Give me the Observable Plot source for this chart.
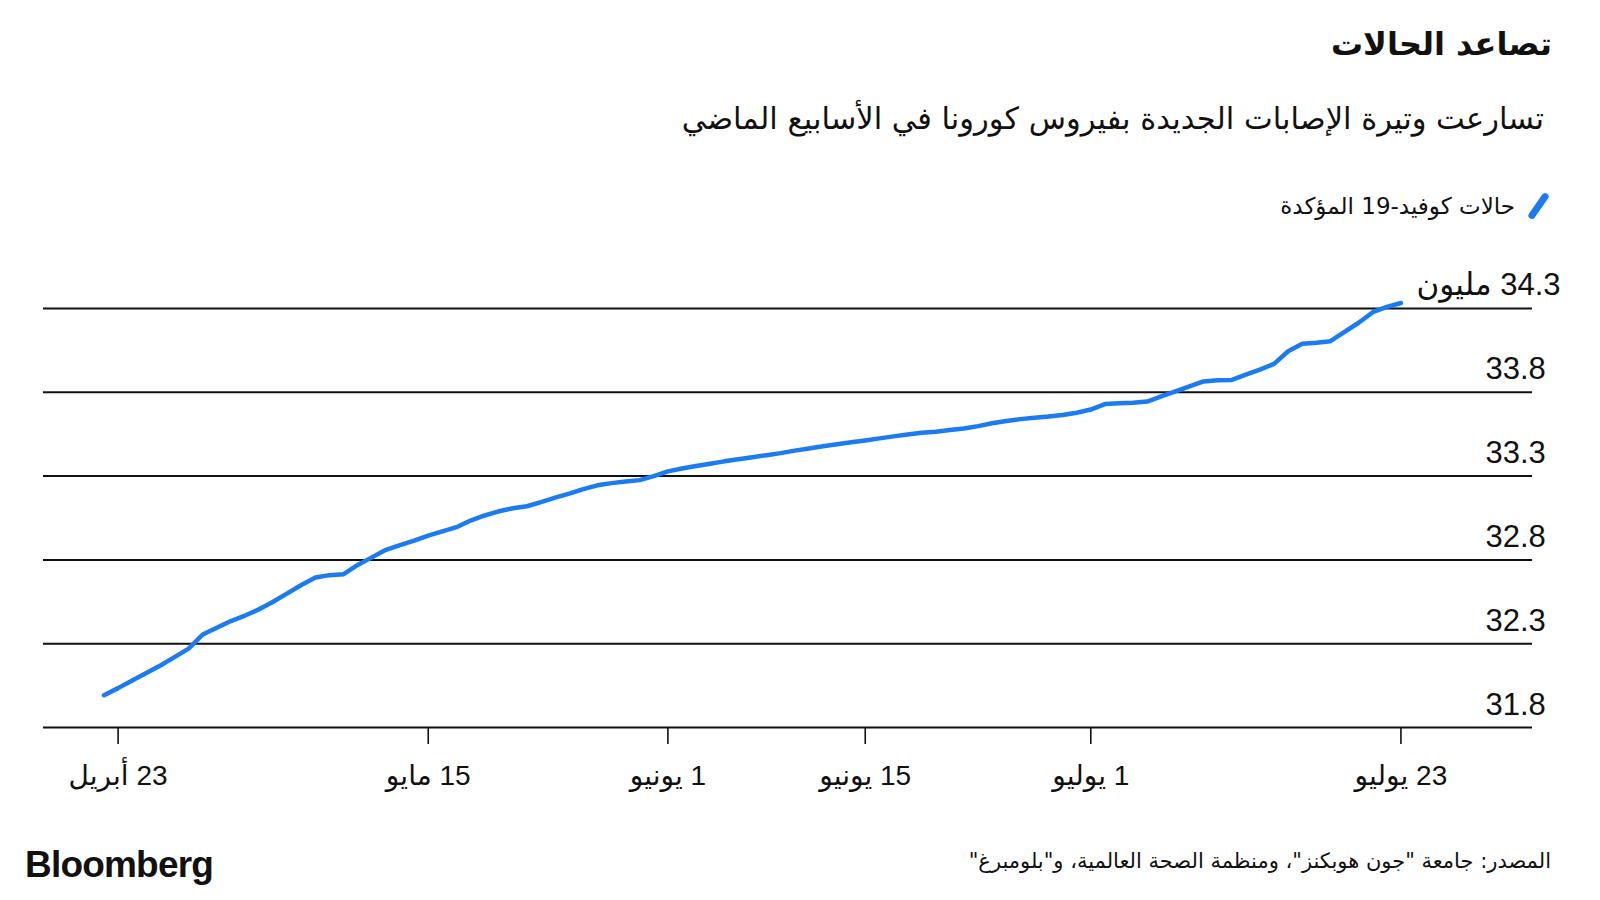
<!DOCTYPE html>
<html lang="ar">
<head>
<meta charset="utf-8">
<script src="https://cdn.jsdelivr.net/npm/d3@7"></script>
<script src="https://cdn.jsdelivr.net/npm/@observablehq/plot@0.6"></script>
<style>
  html, body { margin: 0; padding: 0; background: #fff; }
  #wrap { position: relative; width: 1600px; height: 900px; overflow: hidden; background: #fff; font-family: "Liberation Sans", "DejaVu Sans", sans-serif; color: #111; }
  .rtl { direction: rtl; text-align: right; position: absolute; white-space: nowrap; }
  #title { right: 48px; top: 28px; font-size: 32px; font-weight: bold; line-height: 1; font-family: "DejaVu Sans", sans-serif; }
  #subtitle { right: 56px; top: 104px; font-size: 30.5px; line-height: 1; font-family: "DejaVu Sans", sans-serif; }
  #legend { right: 58px; top: 191px; font-size: 23px; line-height: 1; font-family: "DejaVu Sans", sans-serif; display: flex; align-items: center; gap: 20px; }
  #legend .swatch { width: 7px; height: 30px; background: #1b7bf2; border-radius: 4px; transform: rotate(35deg); }
  #chart { position: absolute; left: 0; top: 240px; }
  #brand { position: absolute; left: 25px; top: 846px; font-size: 37px; font-weight: bold; letter-spacing: -0.8px; font-family: "Liberation Sans", sans-serif; line-height: 1; }
  #source { right: 49px; top: 851px; font-size: 21px; line-height: 1; font-family: "DejaVu Sans", sans-serif; }
</style>
</head>
<body>
<div id="wrap">
  <div id="title" class="rtl">تصاعد الحالات</div>
  <div id="subtitle" class="rtl">تسارعت وتيرة الإصابات الجديدة بفيروس كورونا في الأسابيع الماضي</div>
  <div id="legend" class="rtl"><span class="swatch"></span><span>حالات كوفيد-19 المؤكدة</span></div>
  <div id="chart"></div>
  <div id="brand">Bloomberg</div>
  <div id="source" class="rtl">المصدر: جامعة "جون هوبكنز"، ومنظمة الصحة العالمية، و"بلومبرغ"</div>
</div>
<script>
// ---- data (cumulative confirmed cases, millions), daily from 2021-04-22 ----
const startDate = "2021-04-22";
const cases = [
  31.993, 32.035, 32.080, 32.125, 32.170, 32.220, 32.271, 32.355, 32.395, 32.435,
  32.468, 32.505, 32.550, 32.600, 32.650, 32.695, 32.709, 32.715, 32.770, 32.815,
  32.860, 32.888, 32.915, 32.945, 32.970, 32.995, 33.035, 33.065, 33.090, 33.108,
  33.120, 33.145, 33.172, 33.195, 33.222, 33.245, 33.258, 33.268, 33.276, 33.300,
  33.328, 33.345, 33.360, 33.374, 33.388, 33.400, 33.413, 33.425, 33.437, 33.452,
  33.465, 33.478, 33.490, 33.502, 33.513, 33.525, 33.537, 33.548, 33.558, 33.565,
  33.575, 33.584, 33.598, 33.615, 33.629, 33.640, 33.648, 33.655, 33.664, 33.678,
  33.697, 33.730, 33.735, 33.738, 33.745, 33.775, 33.805, 33.835, 33.865, 33.872,
  33.874, 33.905, 33.935, 33.970, 34.045, 34.090, 34.096, 34.105, 34.160, 34.215,
  34.278, 34.310, 34.333
];
const xTickDates = ["2021-04-23", "2021-05-15", "2021-06-01", "2021-06-15", "2021-07-01", "2021-07-23"];
const xTickLabels = ["23 أبريل", "15 مايو", "1 يونيو", "15 يونيو", "1 يوليو", "23 يوليو"];
const yTicks = [31.8, 32.3, 32.8, 33.3, 33.8, 34.3];
const yTickLabels = ["31.8", "32.3", "32.8", "33.3", "33.8", "34.3 مليون"];
const xDomain = ["2021-04-17T17:00Z", "2021-08-01T08:00Z"];

// ---- build tables ----
const start = new Date(startDate + "T00:00Z");
const data = cases.map((v, i) => ({ date: d3.utcDay.offset(start, i), value: v }));
const tickDates = xTickDates.map(s => new Date(s + "T00:00Z"));
const tickLabelMap = new Map(tickDates.map((d, i) => [+d, "\u202B" + xTickLabels[i] + "\u202C"]));
const yRows = yTicks.map((v, i) => ({ v, label: "\u202B" + yTickLabels[i] + "\u202C", top: i === yTicks.length - 1 }));

const chart = Plot.plot({
  width: 1600,
  height: 560,
  marginTop: 68,
  marginBottom: 73,
  marginLeft: 43,
  marginRight: 68,
  style: { fontFamily: "'Liberation Sans', 'DejaVu Sans', sans-serif", color: "#111", background: "transparent", overflow: "visible" },
  x: { type: "utc", domain: xDomain.map(s => new Date(s)) },
  y: { domain: [yTicks[0], yTicks[yTicks.length - 1]], axis: null },
  marks: [
    Plot.ruleY(yTicks, { stroke: "#111", strokeWidth: 2 }),
    Plot.axisX({
      ticks: tickDates,
      tickFormat: d => tickLabelMap.get(+d),
      tickSize: 17,
      tickPadding: 21,
      strokeWidth: 1.6,
      stroke: "#111",
      fontSize: 28,
      fill: "#111",
      label: null
    }),
    Plot.line(data, { x: "date", y: "value", stroke: "#1b7bf2", strokeWidth: 4.5, strokeLinejoin: "round", strokeLinecap: "round" }),
    Plot.text(yRows.filter(d => !d.top), {
      y: "v", text: "label", frameAnchor: "right", textAnchor: "start",
      lineAnchor: "bottom", dx: -47, dy: -13, fontSize: 31, fill: "#111"
    }),
    Plot.text(yRows.filter(d => d.top), {
      y: "v", text: "label", frameAnchor: "right", textAnchor: "end",
      lineAnchor: "bottom", dx: 28, dy: -14, fontSize: 31, fill: "#111"
    })
  ]
});
document.getElementById("chart").appendChild(chart);
</script>
</body>
</html>
